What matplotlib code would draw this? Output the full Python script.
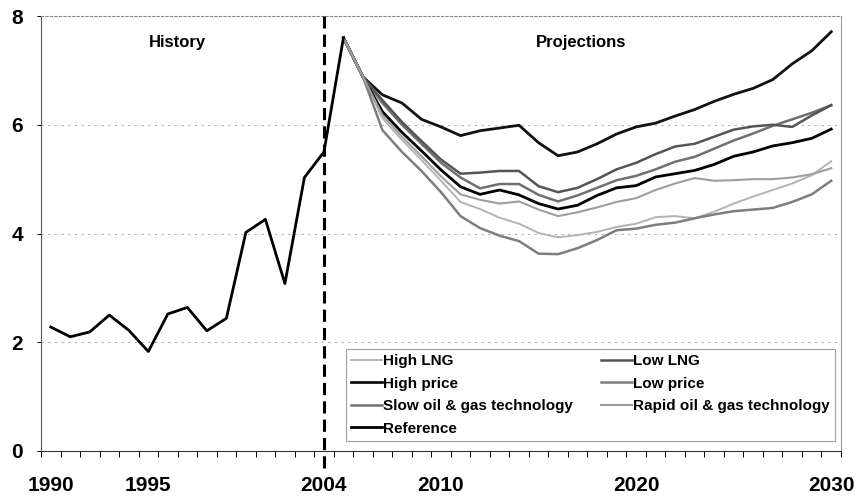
import matplotlib
matplotlib.use('Agg')
import matplotlib.pyplot as plt
from matplotlib import rcParams
from matplotlib.ticker import FixedLocator

config = {
    "font.family": ['Liberation Sans', 'DejaVu Sans'],
    "font.weight": 'bold',
}
rcParams.update(config)

# history 1990-2005
hist_years = list(range(1990, 2006))
history = [2.28, 2.10, 2.19, 2.50, 2.22, 1.83, 2.52, 2.64, 2.21, 2.44,
           4.02, 4.26, 3.08, 5.03, 5.50, 7.60]

# projections 2005-2030
proj_years = list(range(2005, 2031))
high_lng = [7.60, 6.88, 6.12, 5.72, 5.35, 4.97, 4.58, 4.45, 4.29, 4.18, 4.01, 3.93, 3.97,
            4.03, 4.12, 4.18, 4.30, 4.32, 4.28, 4.40, 4.55, 4.68, 4.80, 4.92, 5.07, 5.33]
low_lng = [7.60, 6.88, 6.45, 6.05, 5.70, 5.36, 5.10, 5.12, 5.15, 5.15, 4.87, 4.76, 4.84,
           5.00, 5.18, 5.30, 5.46, 5.60, 5.65, 5.78, 5.91, 5.97, 6.00, 5.96, 6.17, 6.36]
high_price = [7.60, 6.88, 6.55, 6.40, 6.10, 5.96, 5.80, 5.89, 5.94, 5.99, 5.67, 5.43, 5.50,
              5.65, 5.83, 5.96, 6.03, 6.16, 6.28, 6.43, 6.56, 6.67, 6.83, 7.12, 7.36, 7.71]
low_price = [7.60, 6.88, 5.90, 5.50, 5.15, 4.76, 4.32, 4.10, 3.96, 3.86, 3.63, 3.62, 3.73,
             3.88, 4.06, 4.09, 4.16, 4.20, 4.28, 4.35, 4.41, 4.44, 4.47, 4.58, 4.72, 4.97]
slow_tech = [7.60, 6.88, 6.40, 6.00, 5.65, 5.30, 5.03, 4.83, 4.91, 4.91, 4.71, 4.59, 4.70,
             4.84, 4.98, 5.06, 5.18, 5.32, 5.41, 5.56, 5.71, 5.84, 5.98, 6.10, 6.22, 6.36]
rapid_tech = [7.60, 6.88, 6.18, 5.78, 5.42, 5.05, 4.72, 4.62, 4.55, 4.59, 4.44, 4.32, 4.39,
              4.48, 4.58, 4.65, 4.80, 4.92, 5.02, 4.97, 4.98, 5.00, 5.00, 5.03, 5.09, 5.20]
reference = [7.60, 6.88, 6.24, 5.86, 5.52, 5.17, 4.86, 4.72, 4.80, 4.71, 4.55, 4.45, 4.52,
             4.70, 4.84, 4.88, 5.04, 5.10, 5.16, 5.27, 5.42, 5.50, 5.61, 5.67, 5.75, 5.92]

tick_years = [1990, 1995, 2004, 2010, 2020, 2030]

fig = plt.figure(figsize=(8.59, 4.97), dpi=100)
ax = fig.add_axes([41 / 859, 46 / 497, 800 / 859, 435 / 497])

# grid
for yv in [2, 4, 6]:
    ax.axhline(yv, color='#b0b0b0', lw=0.8, ls=(0, (2, 4)), zorder=0)

ax.plot(hist_years, history, color='black', lw=2.0, zorder=5)

series = [
    ('High LNG', high_lng, '#b4b4b4', 1.4),
    ('High price', high_price, '#111111', 2.0),
    ('Slow oil & gas technology', slow_tech, '#707070', 1.8),
    ('Reference', reference, '#000000', 2.0),
    ('Low LNG', low_lng, '#555555', 1.8),
    ('Low price', low_price, '#7e7e7e', 1.8),
    ('Rapid oil & gas technology', rapid_tech, '#9e9e9e', 1.5),
]
handles = []
for name, vals, col, lw in series:
    h, = ax.plot(proj_years, vals, color=col, lw=lw, label=name, zorder=4)
    handles.append(h)

# 2004 divider
ax.axvline(2004, ymin=-0.04, ymax=1, color='black', lw=2.2, ls=(0, (4, 2)),
           clip_on=False, zorder=6)

ax.text(1996.5, 7.52, 'History', ha='center', va='center', fontsize=12, fontweight='bold')
ax.text(2017.2, 7.52, 'Projections', ha='center', va='center', fontsize=12, fontweight='bold')

leg = ax.legend(handles=handles, ncol=2, loc='lower left',
                bbox_to_anchor=(0.381, 0.023, 0.612, 0.221), mode='expand',
                prop={'weight': 'bold', 'size': 11}, frameon=True, fancybox=False,
                handlelength=2.0, handletextpad=0.1, borderpad=0.35, labelspacing=0.55,
                columnspacing=1.0, borderaxespad=0)
leg.get_frame().set_edgecolor('#888888')
leg.get_frame().set_linewidth(0.8)

ax.set_xlim(1989.5, 2030.5)
ax.set_ylim(0, 8)
ax.set_yticks([0, 2, 4, 6, 8])
ax.set_xticks(tick_years)
ax.xaxis.set_minor_locator(FixedLocator([y + 0.5 for y in range(1989, 2031)]))
ax.tick_params(axis='x', which='major', length=0, pad=18)
ax.tick_params(axis='x', which='minor', length=4, width=0.7, direction='out')
ax.tick_params(axis='y', length=3, width=0.7, pad=10)
for lab in ax.get_xticklabels() + ax.get_yticklabels():
    lab.set_fontsize(15)
    lab.set_fontweight('bold')

ax.spines['left'].set_color('#555555')
ax.spines['left'].set_linewidth(0.8)
ax.spines['bottom'].set_color('#333333')
ax.spines['bottom'].set_linewidth(0.8)
ax.spines['top'].set_color('#888888')
ax.spines['top'].set_linestyle((0, (2, 2)))
ax.spines['top'].set_linewidth(0.8)
ax.spines['right'].set_color('#999999')
ax.spines['right'].set_linewidth(0.8)

fig.savefig('out.png', dpi=100)
